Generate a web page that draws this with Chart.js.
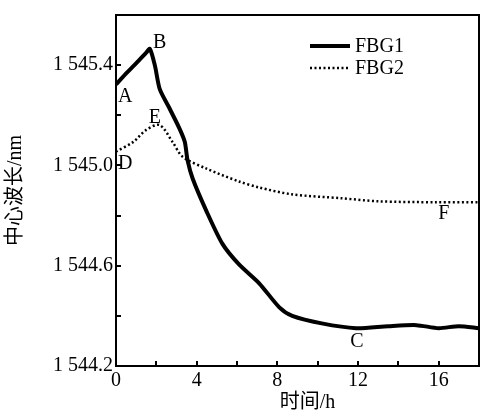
<!DOCTYPE html>
<html><head><meta charset="utf-8">
<script src="https://cdn.jsdelivr.net/npm/chart.js@4.4.0/dist/chart.umd.min.js"></script>
<style>html,body{margin:0;padding:0;background:#fff}</style>
</head><body>
<canvas id="c" width="480" height="412"></canvas>
<script>
// ---- data ----
const seriesNames = ['FBG1', 'FBG2'];
const fbg1Time  = [0, 0.54, 1.03, 1.5, 1.68, 1.93, 2.17, 2.67, 3.16, 3.41, 3.55, 3.8, 4.49, 5.28, 6.1, 7.1, 8.1, 8.74, 10.2, 11.9, 13.5, 14.9, 16, 17, 18];
const fbg1Value = [1545.323, 1545.37, 1545.41, 1545.45, 1545.465, 1545.398, 1545.304, 1545.225, 1545.145, 1545.094, 1545.02, 1544.948, 1544.817, 1544.687, 1544.605, 1544.53, 1544.434, 1544.40, 1544.37, 1544.351, 1544.359, 1544.363, 1544.351, 1544.359, 1544.351];
const fbg2Time  = [0, 0.86, 1.5, 2.17, 2.8, 3.3, 4.49, 6.1, 7.1, 8.7, 11.2, 13.0, 15.9, 18];
const fbg2Value = [1545.055, 1545.094, 1545.142, 1545.161, 1545.094, 1545.035, 1544.987, 1544.936, 1544.912, 1544.885, 1544.869, 1544.857, 1544.853, 1544.853];
const xTicks = [0, 4, 8, 12, 16];
const xMinorTicks = [2, 6, 10, 14];
const yTicks = [1544.2, 1544.6, 1545.0, 1545.4];
const yTickLabels = ['1 544.2', '1 544.6', '1 545.0', '1 545.4'];
const yMinorTicks = [1544.4, 1544.8, 1545.2];
const pointLabels = ['A', 'B', 'C', 'D', 'E', 'F'];
const pointLabelTime = [0.1, 2.17, 11.95, 0.1, 1.93, 16.25];
const pointLabelValue = [1545.272, 1545.489, 1544.296, 1545.007, 1545.19, 1544.806];
const xTitle = '时间/h';
const yTitle = '中心波长/nm';

const FONT = '"Liberation Serif", "Noto Sans CJK SC", serif';

const toPts = (xs, ys) => xs.map((x, i) => ({x, y: ys[i]}));

const decor = {
  id: 'decor',
  afterDatasetsDraw(chart) {
    const {ctx, chartArea: a, scales: {x, y}} = chart;
    ctx.save();
    ctx.strokeStyle = '#000';
    ctx.lineWidth = 2;
    ctx.strokeRect(a.left, a.top, a.right - a.left, a.bottom - a.top);
    const tl = 5;
    ctx.beginPath();
    xTicks.concat(xMinorTicks).forEach(v => {
      const px = Math.round(x.getPixelForValue(v));
      ctx.moveTo(px, a.bottom); ctx.lineTo(px, a.bottom - tl);
    });
    yTicks.concat(yMinorTicks).forEach(v => {
      const py = Math.round(y.getPixelForValue(v));
      ctx.moveTo(a.left, py); ctx.lineTo(a.left + tl, py);
    });
    ctx.stroke();
    // point labels
    ctx.fillStyle = '#000';
    ctx.font = '20px ' + FONT;
    ctx.textBaseline = 'middle';
    pointLabels.forEach((t, i) => {
      ctx.textAlign = (t === 'A' || t === 'D') ? 'left' : 'center';
      ctx.fillText(t, x.getPixelForValue(pointLabelTime[i]), y.getPixelForValue(pointLabelValue[i]));
    });
    // x axis title
    ctx.textAlign = 'center';
    ctx.fillText(xTitle, (a.left + a.right) / 2 + 10, a.bottom + 37);
    // legend
    const lx0 = 310, lx1 = 350;
    const rows = [46, 68];
    chart.data.datasets.forEach((ds, i) => {
      ctx.beginPath();
      ctx.lineWidth = ds.borderWidth;
      ctx.setLineDash(ds.borderDash || []);
      ctx.moveTo(lx0, rows[i]); ctx.lineTo(lx1, rows[i]);
      ctx.stroke();
      ctx.setLineDash([]);
      ctx.textAlign = 'left';
      ctx.fillText(ds.label, 355, rows[i] + 1);
    });
    ctx.restore();
  }
};

new Chart(document.getElementById('c'), {
  type: 'line',
  data: {
    datasets: [
      { label: seriesNames[0], data: toPts(fbg1Time, fbg1Value), borderColor: '#000', borderWidth: 4, pointRadius: 0, tension: 0.25, fill: false },
      { label: seriesNames[1], data: toPts(fbg2Time, fbg2Value), borderColor: '#000', borderWidth: 2.5, borderDash: [2, 2.5], pointRadius: 0, tension: 0.3, fill: false }
    ]
  },
  options: {
    responsive: false,
    animation: false,
    layout: { padding: { top: 12, right: 1, left: 0, bottom: 0 } },
    plugins: { legend: { display: false }, tooltip: { enabled: false } },
    scales: {
      x: {
        type: 'linear', min: 0, max: 18,
        grid: { display: false, drawTicks: false },
        border: { display: false },
        afterBuildTicks: s => { s.ticks = xTicks.map(v => ({value: v})); },
        afterFit: s => { s.height = 46; },
        ticks: { color: '#000', font: { family: FONT, size: 20 }, padding: 3, maxRotation: 0, autoSkip: false, callback: v => String(v) },
        title: { display: false, text: xTitle }
      },
      y: {
        type: 'linear', min: 1544.2, max: 1545.6,
        grid: { display: false, drawTicks: false },
        border: { display: false },
        afterBuildTicks: s => { s.ticks = yTicks.map(v => ({value: v})); },
        afterFit: s => { s.width = 116; },
        ticks: { color: '#000', font: { family: FONT, size: 20 }, padding: 3, autoSkip: false,
          callback: (v) => { const i = yTicks.findIndex(t => Math.abs(t - v) < 1e-6); return i >= 0 ? yTickLabels[i] : ''; } },
        title: { display: true, text: yTitle, color: '#000', font: { family: FONT, size: 20, lineHeight: 1 }, padding: { top: 6, bottom: 0 } }
      }
    }
  },
  plugins: [decor]
});
</script>
</body></html>
